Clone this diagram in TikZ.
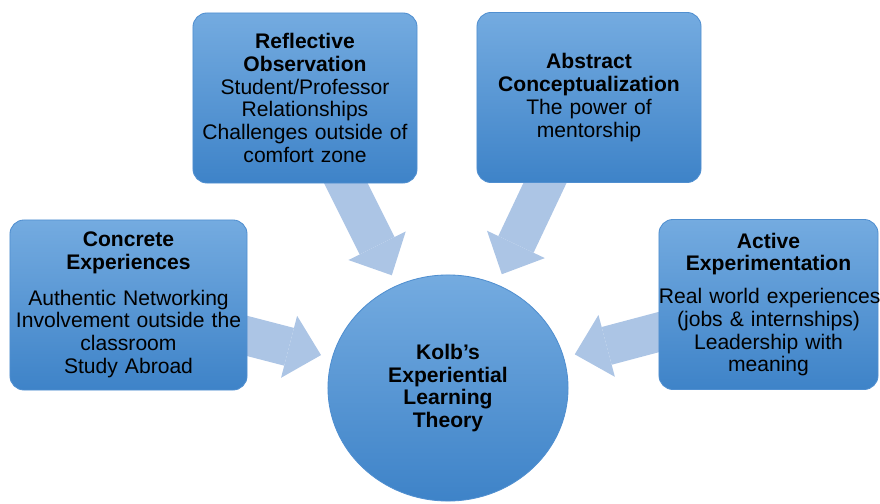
\documentclass[tikz,border=0pt]{standalone}
\usepackage{fontspec}
\setmainfont{Liberation Sans}
\usetikzlibrary{arrows.meta,positioning,shapes.geometric,backgrounds}
\definecolor{boxtop}{RGB}{116,171,224}
\definecolor{boxbot}{RGB}{62,131,200}
\definecolor{boxedge}{RGB}{80,143,208}
\definecolor{flow}{RGB}{172,197,229}

\begin{document}
\begin{tikzpicture}[x=0.025cm,y=-0.025cm,
 every node/.style={font=\fontsize{15}{16.2}\selectfont,inner sep=0pt,align=center},
 stagebox/.style={draw=boxedge,line width=0.6pt,rounded corners=0.35cm,
  top color=boxtop,bottom color=boxbot,minimum height=4.25cm},
 hubdisc/.style={ellipse,draw=boxedge,line width=0.6pt,top color=boxtop,
  bottom color=boxbot,minimum width=6cm,minimum height=5.65cm},
 flowarrow/.style={draw=flow,line width=0.975cm,
  -{Triangle[length=0.825cm,width=1.6cm,line width=0pt]},
  shorten <=-0.3cm,shorten >=0.28cm}]
\useasboundingbox (0,0) rectangle (880,504);
\node[stagebox,text width=5.925cm] (conc) at (128.5,305)
 {\textbf{Concrete}\\\textbf{Experiences}\\[9pt]Authentic Networking\\
  Involvement outside the\\classroom\\Study Abroad};
\node[stagebox,text width=5.6cm] (refl) at (305,98)
 {\textbf{Reflective}\\\textbf{Observation}\\Student/Professor\\
  Relationships\\Challenges outside of\\comfort zone};
\node[stagebox,text width=5.6cm] (abst) at (589,97.5)
 {\textbf{Abstract}\\\textbf{Conceptualization}\\The power of\\mentorship};
\node[stagebox,text width=5.475cm] (actv) at (768.5,304.5)
 {\textbf{Active}\\\textbf{Experimentation}\\[7pt]\mbox{Real world experiences}\\
  (jobs \& internships)\\Leadership with\\meaning};
\node[hubdisc] (kolb) at (448,388)
 {\textbf{Kolb’s}\\\textbf{Experiential}\\\textbf{Learning}\\\textbf{Theory}};
% block arrows sit behind the boxes
\begin{pgfonlayer}{background}
\draw[flowarrow] ([yshift=-0.775cm]conc.east) -- (kolb);
\draw[flowarrow] ([xshift=1.025cm]refl.south) -- (kolb);
\draw[flowarrow] ([xshift=-1.1cm]abst.south) -- (kolb);
\draw[flowarrow] ([yshift=-0.69cm]actv.west) -- (kolb);
\end{pgfonlayer}
\end{tikzpicture}
\end{document}
